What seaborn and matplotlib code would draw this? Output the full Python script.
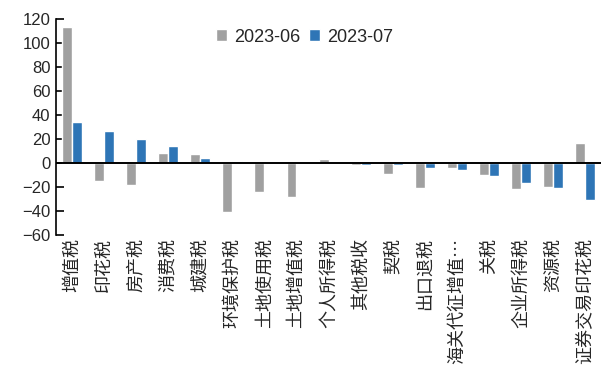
import matplotlib
matplotlib.use("Agg")
import matplotlib.pyplot as plt
import seaborn as sns
import pandas as pd

# Tax categories (x axis)
categories = ["增值税", "印花税", "房产税", "消费税", "城建税", "环境保护税",
              "土地使用税", "土地增值税", "个人所得税", "其他税收", "契税",
              "出口退税", "海关代征增值…", "关税", "企业所得税", "资源税",
              "证券交易印花税"]

# Year-on-year change (%) for each month
series_names = ["2023-06", "2023-07"]
values_jun = [113, -15, -18, 8, 7.5, -41, -24, -28, 3.5, -2, -9, -21, -4, -10, -22, -20, 17]
values_jul = [34, 27, 20, 14, 4.5, 2, 1, 0.3, -0.3, -1.3, -2, -4.5, -5.5, -11, -17, -20.5, -31]

colors = ["#A0A0A0", "#2E75B6"]

df = pd.DataFrame({
    "category": categories * 2,
    "month": [series_names[0]] * len(categories) + [series_names[1]] * len(categories),
    "value": values_jun + values_jul,
})

sns.set_theme(style="white")
plt.rcParams["font.family"] = ["Liberation Sans", "Noto Sans CJK SC", "DejaVu Sans"]

fig = plt.figure(figsize=(6.03, 3.70), dpi=100)
ax = fig.add_axes([0.0929, 0.365, 0.9038, 0.5836])

sns.barplot(data=df, x="category", y="value", hue="month", order=categories,
            hue_order=series_names, palette=colors, width=0.62, saturation=1,
            ax=ax, legend=True)

ax.axhline(0, color="black", linewidth=1.4, zorder=3)

ax.set_ylim(-60, 120)
ax.set_yticks(range(-60, 121, 20))
ax.set_xlim(-0.5, len(categories) - 0.5)
ax.set_xlabel("")
ax.set_ylabel("")

for side in ["top", "right", "bottom"]:
    ax.spines[side].set_visible(False)
ax.spines["left"].set_color("black")
ax.spines["left"].set_linewidth(1.2)

ax.tick_params(axis="y", direction="in", length=6, width=1.2, color="black",
               labelsize=12, pad=4, left=True)
ax.tick_params(axis="x", length=0, pad=2)
for lbl in ax.get_yticklabels():
    lbl.set_fontfamily(["Liberation Sans", "DejaVu Sans"])

ax.set_xticks(range(len(categories)))
ax.set_xticklabels(categories, rotation=90, ha="center", va="top",
                   fontsize=13, family=["Noto Sans CJK SC", "DejaVu Sans"])

handles, labels = ax.get_legend_handles_labels()
ax.legend(handles, labels, loc="center", bbox_to_anchor=(0.505, 0.9),
          bbox_transform=fig.transFigure, ncol=2, frameon=False,
          handlelength=0.6, handleheight=0.6, handletextpad=0.4,
          columnspacing=0.5, prop={"family": "Liberation Sans", "size": 13})

fig.savefig("out.png", dpi=100)
